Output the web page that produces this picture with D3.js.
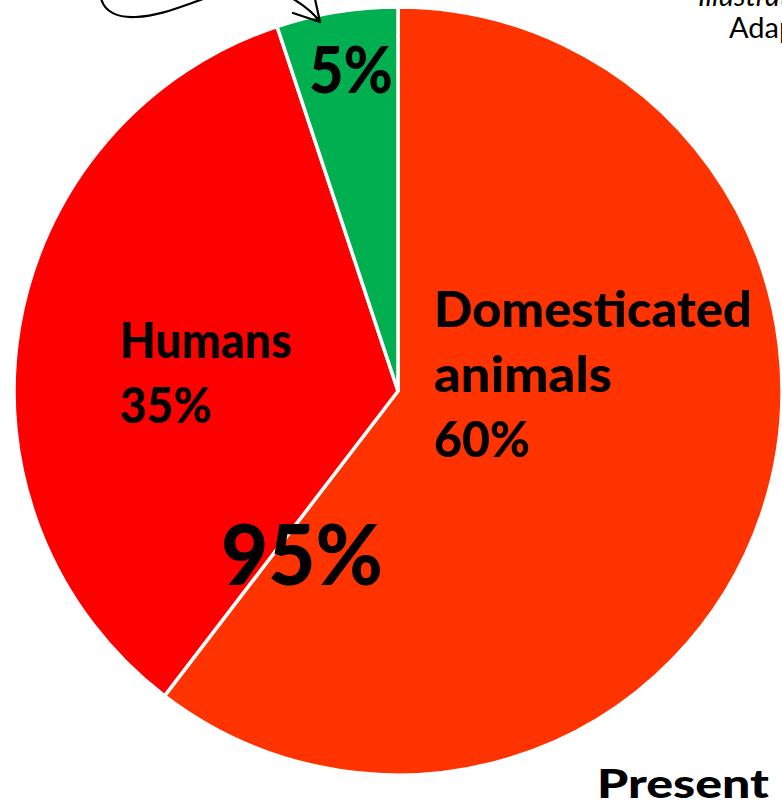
<!DOCTYPE html>
<html>
<head>
<meta charset="utf-8">
<script src="https://cdn.jsdelivr.net/npm/d3@7"></script>
<style>
html,body{margin:0;padding:0;background:#fff;overflow:hidden;}
svg{display:block;}
</style>
</head>
<body>
<svg id="chart" width="782" height="806"></svg>
<script>
// ---- data ----
const categories = ["Domesticated animals", "Humans", "Wild mammals"];
const values = [60.4, 34.5, 5.1];
const sliceColors = ["#FF3300", "#FF0000", "#00B050"];
const labelLines = [["Domesticated", "animals", "60%"], ["Humans", "35%"], ["5%"]];
const totalLabel = "95%";
const periodLabel = "Present";

const W = 782, H = 806;
const cx = 398, cy = 391, R = 384;
const FONT = "Lato, 'Open Sans', sans-serif";

const svg = d3.select("#chart");

const pie = d3.pie().sort(null).value(d => d)(values);
const arc = d3.arc().innerRadius(0).outerRadius(R);

const g = svg.append("g").attr("transform", `translate(${cx},${cy})`);
g.selectAll("path.slice").data(pie).join("path")
  .attr("class", "slice")
  .attr("d", arc)
  .attr("fill", (d, i) => sliceColors[i])
  .attr("stroke", "#fff")
  .attr("stroke-width", 3.5)
  .attr("stroke-linejoin", "round");

function label(x, y, txt, size, len) {
  const t = svg.append("text")
    .attr("x", x).attr("y", y)
    .attr("font-family", FONT)
    .attr("font-weight", 900)
    .attr("font-size", size)
    .attr("fill", "#000")
    .text(txt);
  if (len) t.attr("textLength", len).attr("lengthAdjust", "spacingAndGlyphs");
  return t;
}
// Domesticated animals
const dl = labelLines[0];
label(cx + 36, cy - 64, dl[0], 50, 318);
label(cx + 36, cy + 1, dl[1], 50, 178);
label(cx + 36, cy + 66, dl[2], 50, 96);
// Humans
const hl = labelLines[1];
label(cx - 278, cy - 33, hl[0], 50, 172);
label(cx - 278, cy + 32, hl[1], 50, 92);
// Wild
label(cx - 89, cy - 298, labelLines[2][0], 64, 84);
// total
label(cx - 177, cy + 194, totalLabel, 84, 162);
// period
label(597, 798, periodLabel, 40, 172);

// top-right source text (clipped by window, as in the reference)
svg.append("text").attr("x", 698).attr("y", 6)
  .attr("font-family", FONT).attr("font-style", "italic").attr("font-size", 29)
  .attr("fill", "#000").text("Illustration by");
svg.append("text").attr("x", 729).attr("y", 38)
  .attr("font-family", FONT).attr("font-size", 29)
  .attr("fill", "#000").text("Adapted from");

// hand-drawn connector and arrow at top
svg.append("path")
  .attr("d", "M101,-2 C104,12 118,18 136,17 C160,16 182,6 206,-2")
  .attr("fill", "none").attr("stroke", "#000").attr("stroke-width", 2.2)
  .attr("stroke-linecap", "round");
svg.append("path")
  .attr("d", "M290,-3 C302,4 313,12 320,22 M293,13 L320,22 L315,-1")
  .attr("fill", "none").attr("stroke", "#000").attr("stroke-width", 2.2)
  .attr("stroke-linecap", "round").attr("stroke-linejoin", "round");
</script>
</body>
</html>
